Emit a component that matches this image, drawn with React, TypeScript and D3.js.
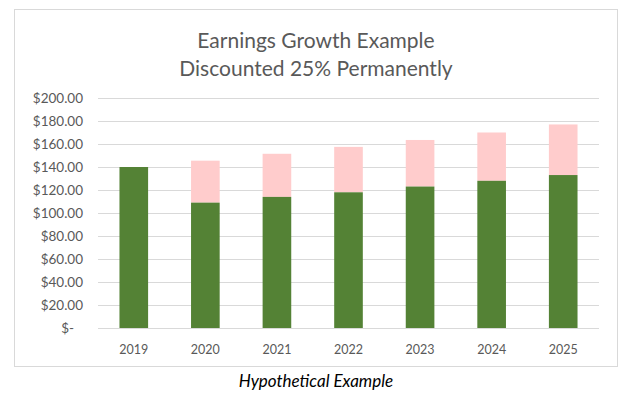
import React from "react";
import * as d3 from "d3";

const years = ["2019", "2020", "2021", "2022", "2023", "2024", "2025"];
const discounted = [140, 109, 114, 118, 123, 128, 133];
const undiscounted = [140, 145.5, 151.5, 157.5, 163.5, 170, 177];
const yTicks = [0, 20, 40, 60, 80, 100, 120, 140, 160, 180, 200];
const titleLines = ["Earnings Growth Example", "Discounted 25% Permanently"];
const caption = "Hypothetical Example";

const W = 637;
const H = 395;
const FONT = "Lato, 'Open Sans', 'Liberation Sans', sans-serif";

export default function App() {
  const x = d3
    .scaleBand<string>()
    .domain(years)
    .range([98, 599])
    .paddingInner(0.6)
    .paddingOuter(0.3);
  const y = d3.scaleLinear().domain([0, 200]).range([328, 98]);

  const fmt = (v: number) => (v === 0 ? "$-" : "$" + d3.format(",.2f")(v));

  return (
    <svg
      width={W}
      height={H}
      style={{ position: "absolute", left: 0, top: 0, background: "#fff" }}
      fontFamily={FONT}
    >
      <rect x={0} y={0} width={W} height={H} fill="#fff" />
      <rect x={14.5} y={9.5} width={603} height={357} fill="#fff" stroke="#d9d9d9" strokeWidth={1} />
      {titleLines.map((t, i) => (
        <text
          key={t}
          x={316}
          y={48 + i * 28}
          textAnchor="middle"
          fontSize={21}
          fill="#595959"
        >
          {t}
        </text>
      ))}
      {yTicks.map((v) => (
        <g key={v}>
          <line
            x1={98}
            x2={599}
            y1={Math.round(y(v)) + 0.5}
            y2={Math.round(y(v)) + 0.5}
            stroke="#d9d9d9"
            strokeWidth={1}
          />
          <text
            x={v === 0 ? 74 : 83}
            y={y(v)}
            dy="0.35em"
            textAnchor="end"
            fontSize={13.5}
            fill="#595959"
          >
            {fmt(v)}
          </text>
        </g>
      ))}
      {years.map((yr, i) => (
        <g key={yr}>
          <rect
            x={x(yr)}
            width={x.bandwidth()}
            y={y(undiscounted[i])}
            height={y(discounted[i]) - y(undiscounted[i])}
            fill="#ffcccc"
          />
          <rect
            x={x(yr)}
            width={x.bandwidth()}
            y={y(discounted[i])}
            height={y(0) - y(discounted[i])}
            fill="#548235"
          />
          <text
            x={(x(yr) as number) + x.bandwidth() / 2}
            y={354}
            textAnchor="middle"
            fontSize={12.5}
            fill="#595959"
          >
            {yr}
          </text>
        </g>
      ))}
      <text x={316} y={387} textAnchor="middle" fontSize={17} fontStyle="italic" fill="#000">
        {caption}
      </text>
    </svg>
  );
}
